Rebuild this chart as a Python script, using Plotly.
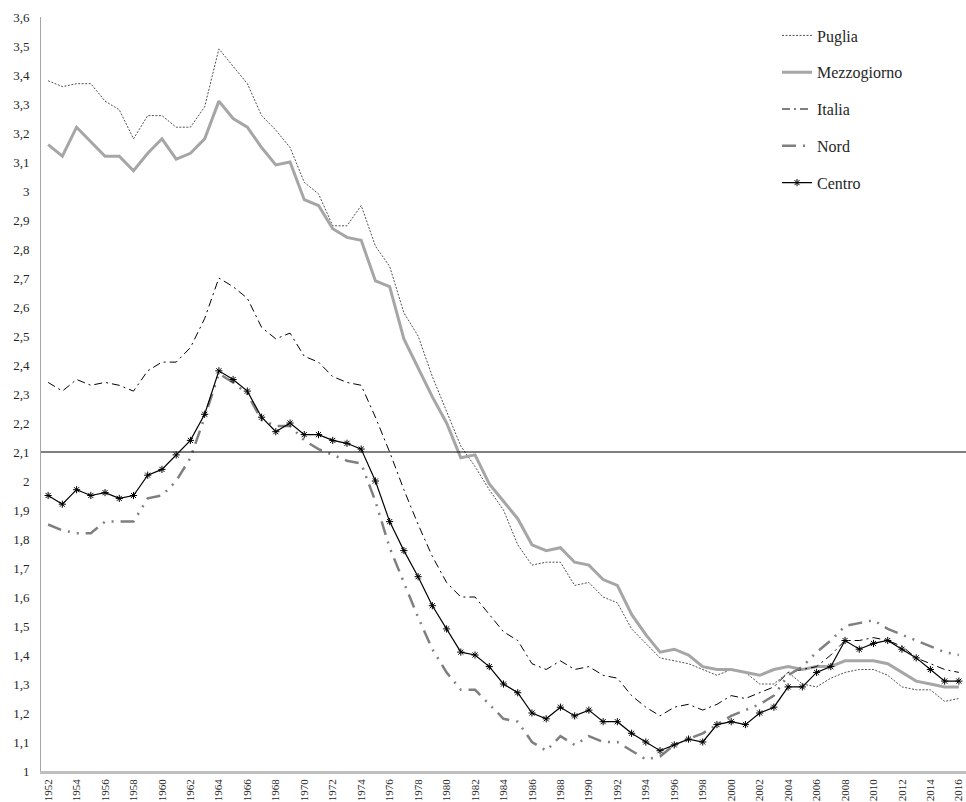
import plotly.graph_objects as go

anni = list(range(1952, 2017))

puglia = [3.38,3.36,3.37,3.37,3.31,3.28,3.18,3.26,3.26,3.22,
          3.22,3.29,3.49,3.43,3.37,3.26,3.21,3.15,3.03,2.99,
          2.88,2.88,2.95,2.81,2.74,2.58,2.50,2.36,2.24,2.12,
          2.05,1.97,1.90,1.78,1.71,1.72,1.72,1.64,1.65,1.60,
          1.58,1.49,1.44,1.39,1.38,1.37,1.35,1.33,1.35,1.34,
          1.30,1.30,1.34,1.30,1.29,1.32,1.34,1.35,1.35,1.33,
          1.29,1.28,1.28,1.24,1.25]

mezzogiorno = [3.16,3.12,3.22,3.17,3.12,3.12,3.07,3.13,3.18,3.11,
               3.13,3.18,3.31,3.25,3.22,3.15,3.09,3.10,2.97,2.95,
               2.87,2.84,2.83,2.69,2.67,2.49,2.39,2.29,2.20,2.08,
               2.09,1.99,1.93,1.87,1.78,1.76,1.77,1.72,1.71,1.66,
               1.64,1.54,1.47,1.41,1.42,1.40,1.36,1.35,1.35,1.34,
               1.33,1.35,1.36,1.35,1.36,1.36,1.38,1.38,1.38,1.37,
               1.34,1.31,1.30,1.29,1.29]

italia = [2.34,2.31,2.35,2.33,2.34,2.33,2.31,2.38,2.41,2.41,
          2.46,2.56,2.70,2.67,2.63,2.53,2.49,2.51,2.43,2.41,
          2.36,2.34,2.33,2.22,2.10,1.97,1.85,1.74,1.65,1.60,
          1.60,1.54,1.48,1.45,1.37,1.35,1.38,1.35,1.36,1.33,
          1.32,1.26,1.22,1.19,1.22,1.23,1.21,1.23,1.26,1.25,
          1.27,1.29,1.34,1.35,1.36,1.40,1.45,1.45,1.46,1.45,
          1.43,1.39,1.37,1.35,1.34]

nord = [1.85,1.83,1.82,1.82,1.86,1.86,1.86,1.94,1.95,2.00,
        2.08,2.22,2.37,2.34,2.30,2.21,2.19,2.19,2.14,2.11,
        2.09,2.07,2.06,1.93,1.77,1.65,1.53,1.42,1.34,1.28,
        1.28,1.23,1.18,1.17,1.10,1.07,1.12,1.09,1.12,1.10,
        1.10,1.07,1.04,1.05,1.09,1.11,1.13,1.16,1.19,1.21,
        1.23,1.26,1.33,1.36,1.41,1.45,1.50,1.51,1.52,1.49,
        1.47,1.45,1.43,1.41,1.40]

centro = [1.95,1.92,1.97,1.95,1.96,1.94,1.95,2.02,2.04,2.09,
          2.14,2.23,2.38,2.35,2.31,2.22,2.17,2.20,2.16,2.16,
          2.14,2.13,2.11,2.00,1.86,1.76,1.67,1.57,1.49,1.41,
          1.40,1.36,1.30,1.27,1.20,1.18,1.22,1.19,1.21,1.17,
          1.17,1.13,1.10,1.07,1.09,1.11,1.10,1.16,1.17,1.16,
          1.20,1.22,1.29,1.29,1.34,1.36,1.45,1.42,1.44,1.45,
          1.42,1.39,1.35,1.31,1.31]

soglia = 2.1
tick_anni = list(range(1952, 2017, 2))
tick_y = [round(1 + i * 0.1, 1) for i in range(27)]

FONT = "Liberation Serif"

fig = go.Figure()

fig.add_trace(go.Scatter(x=anni, y=puglia, name="Puglia", mode="lines",
                         legendgroup="a",
                         line=dict(color="#505050", width=1, dash="2px,1.5px")))
fig.add_trace(go.Scatter(x=anni, y=mezzogiorno, name="Mezzogiorno", mode="lines",
                         legendgroup="b",
                         line=dict(color="#a6a6a6", width=3)))
fig.add_trace(go.Scatter(x=anni, y=italia, name="Italia", mode="lines",
                         legendgroup="c",
                         line=dict(color="#000000", width=1, dash="8px,4px,2px,4px")))
fig.add_trace(go.Scatter(x=anni, y=nord, name="Nord", mode="lines",
                         legendgroup="d",
                         line=dict(color="#7f7f7f", width=2.5,
                                   dash="14px,7px,2px,7px,2px,7px")))
fig.add_trace(go.Scatter(x=anni, y=centro, name="Centro", mode="lines+markers",
                         legendgroup="e",
                         line=dict(color="#000000", width=1.2),
                         marker=dict(symbol="asterisk-open", size=6,
                                     color="#000000",
                                     line=dict(color="#000000", width=1))))

fig.add_shape(type="line", xref="paper", yref="y", x0=0, x1=1,
              y0=soglia, y1=soglia, line=dict(color="#000000", width=1))

fig.update_layout(
    width=966, height=802,
    margin=dict(l=41, r=0, t=17, b=31),
    paper_bgcolor="white", plot_bgcolor="white",
    separators=", ",
    font=dict(family=FONT, size=12, color="#262626"),
    showlegend=True,
    legend=dict(x=0.7957, y=0.998, xanchor="left", yanchor="top",
                traceorder="grouped", tracegroupgap=13,
                font=dict(family=FONT, size=16, color="#262626"),
                bgcolor="rgba(0,0,0,0)", itemwidth=30),
    xaxis=dict(range=[1951.5, 2016.5], tickmode="array", tickvals=tick_anni,
               ticktext=[str(a) for a in tick_anni], tickangle=-90,
               showgrid=False, zeroline=False, showline=True,
               linecolor="#bfbfbf", linewidth=2.5, ticks="",
               ticklabelstandoff=1, automargin=False,
               tickfont=dict(family=FONT, size=11, color="#262626")),
    yaxis=dict(range=[1, 3.6], tickmode="array", tickvals=tick_y,
               showgrid=False, zeroline=False, showline=True,
               linecolor="#a6a6a6", linewidth=1, ticks="",
               ticklabelstandoff=8, automargin=False,
               tickfont=dict(family=FONT, size=13, color="#262626")),
)

fig.write_html(
    "out.html",
    config={"displayModeBar": False},
    post_script="document.body.style.margin='0';document.body.style.overflow='hidden';",
)
